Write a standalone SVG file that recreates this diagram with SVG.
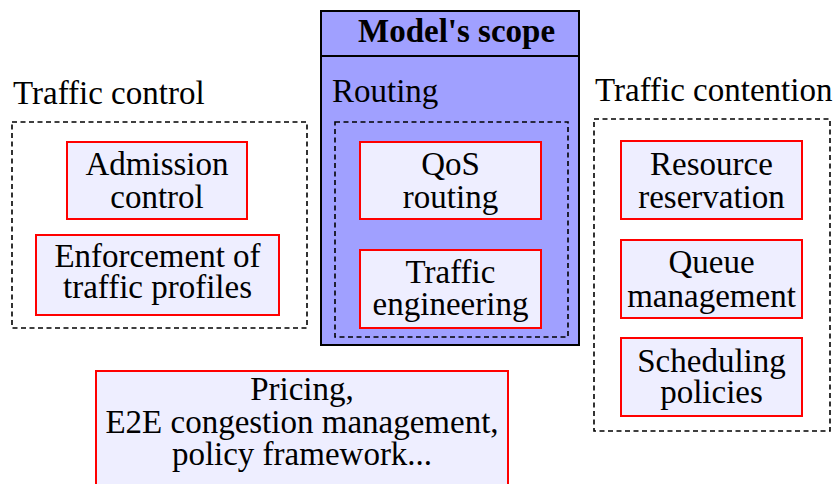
<svg xmlns="http://www.w3.org/2000/svg" width="835" height="484" viewBox="0 0 835 484">
<style>
.node{fill:#eeeeff;stroke:#ff0000;stroke-width:2}
.grp{fill:none;stroke:#000;stroke-width:1.6;stroke-dasharray:5,3.5}
.scope{fill:#a0a0ff;stroke:#000;stroke-width:2}
</style>
<rect width="835" height="484" fill="#fff"/>
<g font-family="'Liberation Serif', 'Times New Roman', serif" font-size="33" fill="#000">
<g id="model-scope">
<rect class="scope" x="321" y="11" width="258" height="334"/>
<line x1="321" y1="56" x2="579" y2="56" stroke="#000" stroke-width="2"/>
<text font-weight="bold" x="358" y="42">Model's scope</text>
</g>
<g id="traffic-control">
<text x="13" y="104">Traffic control</text>
<rect class="grp" x="12" y="122" width="295" height="206"/>
</g>
<g id="routing">
<text x="332" y="102">Routing</text>
<rect class="grp" x="335" y="122" width="233" height="215"/>
</g>
<g id="traffic-contention">
<text x="595" y="101">Traffic contention</text>
<rect class="grp" x="594" y="119" width="236" height="312"/>
</g>
<g text-anchor="middle">
<g id="admission-control">
<rect class="node" x="67" y="142" width="180" height="77"/>
<text x="157" y="175">Admission</text>
<text x="157" y="208">control</text>
</g>
<g id="enforcement">
<rect class="node" x="36" y="235" width="243" height="80"/>
<text x="157.5" y="267">Enforcement of</text>
<text x="157.5" y="298">traffic profiles</text>
</g>
<g id="qos-routing">
<rect class="node" x="360" y="142" width="181" height="77"/>
<text x="450.5" y="175">QoS</text>
<text x="450.5" y="208">routing</text>
</g>
<g id="traffic-engineering">
<rect class="node" x="360" y="250" width="181" height="78"/>
<text x="450.5" y="283">Traffic</text>
<text x="450.5" y="315">engineering</text>
</g>
<g id="resource-reservation">
<rect class="node" x="621" y="141" width="181" height="78"/>
<text x="711.5" y="175">Resource</text>
<text x="711.5" y="208">reservation</text>
</g>
<g id="queue-management">
<rect class="node" x="621" y="240" width="181" height="78"/>
<text x="711.5" y="273">Queue</text>
<text x="711.5" y="307">management</text>
</g>
<g id="scheduling-policies">
<rect class="node" x="621" y="338" width="181" height="78"/>
<text x="711.5" y="372">Scheduling</text>
<text x="711.5" y="403">policies</text>
</g>
<g id="pricing">
<rect class="node" x="96" y="371" width="412" height="130"/>
<text x="302" y="400">Pricing,</text>
<text x="302" y="433">E2E congestion management,</text>
<text x="302" y="465">policy framework...</text>
</g>
</g>
</g>
<g id="connectors"></g>
</svg>
